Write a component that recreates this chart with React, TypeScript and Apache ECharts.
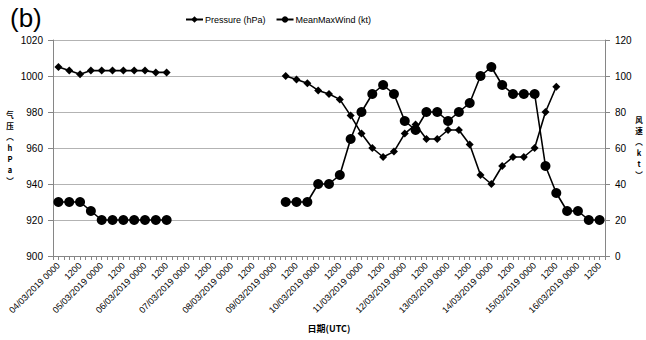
import React, { useEffect, useRef } from 'react';
import * as echarts from 'echarts';

// Categories: 6-hourly from 04/03/2019 0000 to 16/03/2019 1200
const days = ['04', '05', '06', '07', '08', '09', '10', '11', '12', '13', '14', '15', '16'];
const hours = ['0000', '0600', '1200', '1800'];
const categories: string[] = days.flatMap((d) => hours.map((h) => `${d}/03/2019 ${h}`)).slice(0, 51);
// half-category tick positions (Excel draws a tick every 3 h)
const tickCategories: string[] = categories.flatMap((c) => [c + ' a', c + ' b']);

// Pressure (hPa), left axis
const pressure: (number | null)[] = [
  1005, 1003, 1001, 1003, 1003, 1003, 1003, 1003, 1003, 1002, 1002,
  null, null, null, null, null, null, null, null, null, null,
  1000, 998, 996, 992, 990, 987, 978, 968, 960, 955, 958, 968, 973, 965, 965, 970, 970, 962,
  945, 940, 950, 955, 955, 960, 980, 994,
  null, null, null, null,
];

// Mean max wind (kt), right axis
const wind: (number | null)[] = [
  30, 30, 30, 25, 20, 20, 20, 20, 20, 20, 20,
  null, null, null, null, null, null, null, null, null, null,
  30, 30, 30, 40, 40, 45, 65, 80, 90, 95, 90, 75, 70, 80, 80, 75, 80, 85,
  100, 105, 95, 90, 90, 90, 50, 35, 25, 25, 20, 20,
];

const pressureAxis = { min: 900, max: 1020, interval: 20 };
const windAxis = { min: 0, max: 120, interval: 20 };

const seriesNames = ['Pressure (hPa)', 'MeanMaxWind (kt)'];
const leftName = '气\n压\n︵\nh\nP\na\n︶';
const rightName = '风\n速\n︵\nk\nt\n︶';
const xName = '日期(UTC)';

export default function App() {
  const ref = useRef<HTMLDivElement>(null);
  useEffect(() => {
    document.body.style.margin = '0';
    if (!ref.current) return;
    const chart = echarts.init(ref.current, undefined, { renderer: 'svg' });
    const axisGray = '#868686';
    const font = "'Liberation Sans', Arial, sans-serif";
    const cjk = "'Noto Sans CJK SC', sans-serif";
    const nameStyle = {
      fontFamily: cjk,
      fontWeight: 'bold',
      fontSize: 7.5,
      lineHeight: 11,
      fill: '#000',
      textAlign: 'center',
      textVerticalAlign: 'middle',
    };
    chart.setOption({
      animation: false,
      backgroundColor: '#ffffff',
      textStyle: { fontFamily: font },
      title: {
        text: '(b)',
        left: 5,
        top: 0,
        textStyle: { fontSize: 26, fontWeight: 'normal', color: '#000', fontFamily: font },
      },
      legend: {
        left: 180,
        top: 10,
        itemWidth: 17,
        itemHeight: 8,
        itemGap: 10,
        textStyle: { fontSize: 9, color: '#000', fontFamily: font, padding: [0, 0, 0, -3] },
        data: seriesNames,
      },
      grid: { left: 53, right: 41, top: 40, bottom: 84 },
      xAxis: [
        {
          type: 'category',
          data: categories,
          boundaryGap: true,
          axisLine: { lineStyle: { color: axisGray, width: 1 } },
          axisTick: { show: false },
          axisLabel: {
            interval: 1,
            rotate: 45,
            fontSize: 9,
            color: '#000',
            margin: 8,
            formatter: (v: string) => (v.endsWith('0000') ? v : v.slice(-4)),
          },
          splitLine: { show: false },
        },
        {
          type: 'category',
          data: tickCategories,
          position: 'bottom',
          boundaryGap: true,
          axisLine: { show: false },
          axisTick: { show: true, interval: 0, length: 4, lineStyle: { color: axisGray } },
          axisLabel: { show: false },
          splitLine: { show: false },
        },
      ],
      yAxis: [
        {
          type: 'value',
          position: 'left',
          ...pressureAxis,
          axisLine: { show: true, lineStyle: { color: axisGray } },
          axisTick: { show: true, length: 5, lineStyle: { color: axisGray } },
          axisLabel: { fontSize: 10, color: '#000', margin: 10, formatter: (v: number) => String(v) },
          splitLine: { show: true, lineStyle: { color: '#b3b3b3', width: 1 } },
        },
        {
          type: 'value',
          position: 'right',
          ...windAxis,
          axisLine: { show: true, lineStyle: { color: axisGray } },
          axisTick: { show: true, length: 5, lineStyle: { color: axisGray } },
          axisLabel: { fontSize: 10, color: '#000', margin: 10, formatter: (v: number) => String(v) },
          splitLine: { show: false },
        },
      ],
      series: [
        {
          name: seriesNames[0],
          type: 'line',
          xAxisIndex: 0,
          yAxisIndex: 0,
          data: pressure,
          connectNulls: false,
          showAllSymbol: true,
          symbol: 'diamond',
          symbolSize: 8,
          lineStyle: { color: '#000', width: 1.6 },
          itemStyle: { color: '#000' },
        },
        {
          name: seriesNames[1],
          type: 'line',
          xAxisIndex: 0,
          yAxisIndex: 1,
          data: wind,
          connectNulls: false,
          showAllSymbol: true,
          symbol: 'circle',
          symbolSize: 10,
          lineStyle: { color: '#000', width: 1.6 },
          itemStyle: { color: '#000' },
        },
      ],
      graphic: [
        { type: 'text', x: 10, y: 147, style: { ...nameStyle, text: leftName } },
        { type: 'text', x: 639, y: 147, style: { ...nameStyle, text: rightName } },
        {
          type: 'text',
          x: 329,
          y: 328,
          style: { ...nameStyle, fontSize: 9, text: xName },
        },
      ],
    });
    return () => chart.dispose();
  }, []);
  return <div ref={ref} style={{ width: 646, height: 340 }} />;
}
